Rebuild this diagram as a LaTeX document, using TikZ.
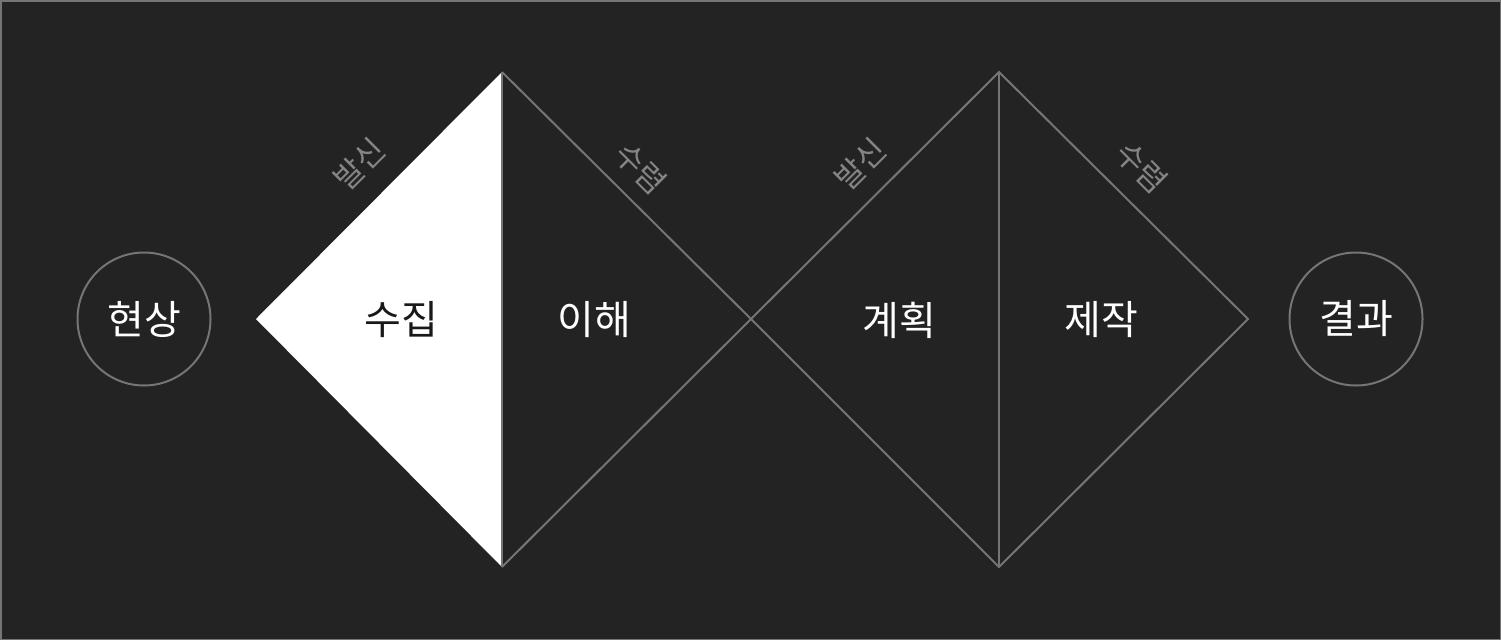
\documentclass[tikz,border=0pt]{standalone}
\usepackage{fontspec}
\setmainfont{Noto Sans CJK KR}
\begin{document}
\begin{tikzpicture}[x=1pt,y=-1pt,
  edge/.style={draw=linegray,line width=2pt},
  ring/.style={circle,draw=linegray,line width=2pt,minimum size=133pt,inner sep=0pt},
  big/.style={font=\fontsize{40}{40}\selectfont,text=white,inner sep=0pt},
  small/.style={font=\fontsize{31}{31}\selectfont,text=labelgray,inner sep=0pt}]
\definecolor{bg}{HTML}{232323}
\definecolor{linegray}{HTML}{757575}
\definecolor{labelgray}{HTML}{858585}
\useasboundingbox (0,0) rectangle (1501,640);
\fill[bg] (0,0) rectangle (1501,640);
\draw[draw=linegray,line width=1.5pt] (0.75,0.75) rectangle (1500.25,639.25);
% diamond points
\coordinate (L1) at (256,319);
\coordinate (T1) at (502,72);
\coordinate (B1) at (502,567);
\coordinate (M) at (751,319);
\coordinate (T2) at (999,72);
\coordinate (B2) at (999,567);
\coordinate (R2) at (1248,319);
\fill[white] (L1) -- (T1) -- (B1) -- cycle;
\draw[edge] (T1) -- (M) -- (B1);
\draw[edge] (T1) -- (B1);
\draw[edge] (M) -- (T2) -- (R2) -- (B2) -- cycle;
\draw[edge] (T2) -- (B2);
% circles
\node[ring] (c1) at (144,319) {};
\node[ring] (c2) at (1356,319) {};
\node[big] (t0) at (144,319) {현상};
\node[big] (t5) at (1356,319) {결과};
\node[big,text=black!90] (t1) at (401,320) {수집};
\node[big] (t2) at (594,320) {이해};
\node[big] (t3) at (899,320) {계획};
\node[big] (t4) at (1101,320) {제작};
% edge labels
\node[small,rotate=45] (s1) at (359,164) {발신};
\node[small,rotate=-45] (s2) at (641,168) {수렴};
\node[small,rotate=45] (s3) at (860,164) {발신};
\node[small,rotate=-45] (s4) at (1142,167) {수렴};
\end{tikzpicture}
\end{document}
